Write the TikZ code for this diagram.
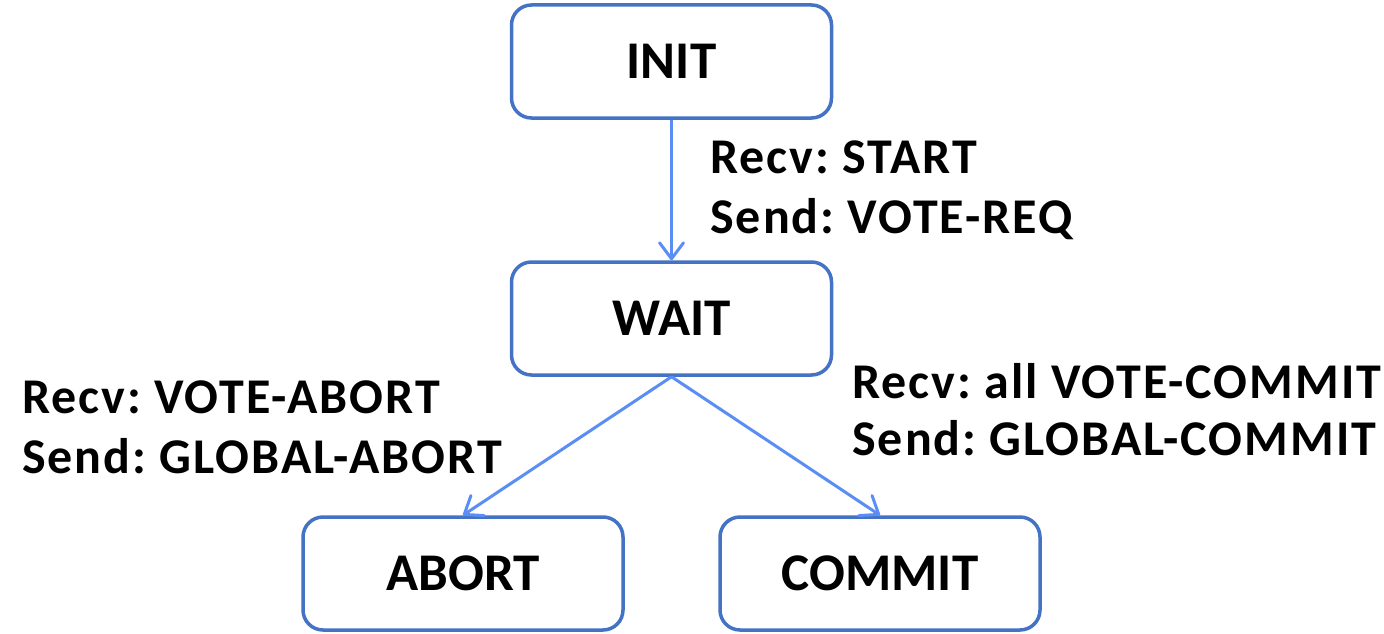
\documentclass[tikz,border=0pt]{standalone}
\usepackage{fontspec}
\setmainfont{Carlito}
\newfontfamily\lblfont{Carlito}[LetterSpace=4]
\usetikzlibrary{arrows.meta}
\definecolor{boxblue}{RGB}{68,114,196}
\definecolor{arrowblue}{RGB}{91,142,245}
\tikzset{
  statebox/.style={draw=boxblue, line width=3.5pt, rounded corners=20pt, fill=white,
    minimum width=320pt, minimum height=113pt, inner sep=0pt,
    font=\fontsize{53}{60}\selectfont\bfseries},
  trans/.style={draw=arrowblue, line width=3pt,
    -{Straight Barb[length=16pt,width=24pt,line width=3pt,round]}},
  lbl/.style={anchor=base west, inner sep=0pt, font=\fontsize{50}{58}\lblfont\bfseries\frenchspacing}
}
\begin{document}
\begin{tikzpicture}[x=1pt,y=-1pt]
\useasboundingbox (0,0) rectangle (1384,634);
\node[statebox] (init) at (671.5,61.5) {INIT};
\node[statebox] (wait) at (671.5,318.5) {WAIT};
\node[statebox] (abort) at (463,573.5) {ABORT};
\node[statebox] (commit) at (880,573.5) {COMMIT};
\draw[trans] (init.south) -- (wait.north);
\draw[trans] (wait.south) -- (abort.north);
\draw[trans] (wait.south) -- (commit.north);
\node[lbl] (l1a) at (710,173) {Recv: START};
\node[lbl] (l1b) at (710,233) {Send: VOTE-REQ};
\node[lbl] (l2a) at (22,413) {Recv: VOTE-ABORT};
\node[lbl] (l2b) at (22,473) {Send: GLOBAL-ABORT};
\node[lbl] (l3a) at (852,398) {Recv: all VOTE-COMMIT};
\node[lbl] (l3b) at (852,455) {Send: GLOBAL-COMMIT};
\end{tikzpicture}
\end{document}
